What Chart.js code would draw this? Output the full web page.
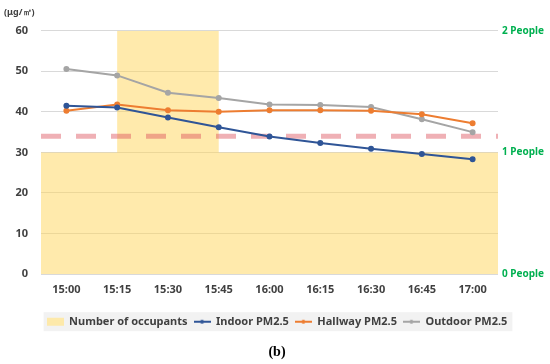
<!DOCTYPE html>
<html>
<head>
<meta charset="utf-8">
<script src="https://cdn.jsdelivr.net/npm/chart.js@4.4.1/dist/chart.umd.min.js"></script>
<style>
  html, body { margin: 0; padding: 0; background: #fff; }
  canvas { display: block; }
</style>
</head>
<body>
<canvas id="pmChart" width="550" height="364"></canvas>
<script>
// data
const times = ['15:00', '15:15', '15:30', '15:45', '16:00', '16:15', '16:30', '16:45', '17:00'];
const indoorPM = [41.5, 41.1, 38.6, 36.2, 33.9, 32.3, 30.9, 29.6, 28.3];
const hallwayPM = [40.3, 41.8, 40.4, 40.0, 40.4, 40.4, 40.3, 39.4, 37.2];
const outdoorPM = [50.6, 49.0, 44.7, 43.4, 41.8, 41.7, 41.2, 38.2, 35.0];
// occupants: count from each time until the next change
const occupantTimes = ['15:00', '15:15', '15:45'];
const occupantCounts = [1, 2, 1];
const pmStandard = 34;
const leftTicks = [0, 10, 20, 30, 40, 50, 60];
const rightTicks = [0, 1, 2];

const toMin = t => {
  const [h, m] = t.split(':').map(Number);
  return (h - 15) * 60 + m;
};
// hidden linear axis lines up with the category axis (half a slot on each side)
const step = toMin(times[1]) - toMin(times[0]);
const xMin = toMin(times[0]) - step / 2;
const xMax = toMin(times[times.length - 1]) + step / 2;

const occupantPoints = occupantTimes.map((t, i) => ({ x: i === 0 ? xMin : toMin(t), y: occupantCounts[i] }));
occupantPoints.push({ x: xMax, y: occupantCounts[occupantCounts.length - 1] });

const yellow = 'rgba(255, 214, 90, 0.5)';
const colors = { indoor: '#2F5597', hallway: '#ED7D31', outdoor: '#A5A5A5' };

function swatch(color, rect) {
  const c = document.createElement('canvas');
  c.width = 17; c.height = 10;
  const g = c.getContext('2d');
  if (rect) {
    g.fillStyle = 'rgb(253, 233, 170)';
    g.fillRect(0, 1, 17, 8);
  } else {
    g.strokeStyle = color; g.lineWidth = 2;
    g.beginPath(); g.moveTo(0, 5); g.lineTo(17, 5); g.stroke();
    g.fillStyle = color;
    g.beginPath(); g.arc(8.5, 5, 2, 0, Math.PI * 2); g.fill();
  }
  return c;
}
const legendIcons = {
  'Number of occupants': swatch(null, true),
  'Indoor PM2.5': swatch(colors.indoor),
  'Hallway PM2.5': swatch(colors.hallway),
  'Outdoor PM2.5': swatch(colors.outdoor)
};

const legendBg = {
  id: 'legendBg',
  beforeDraw(chart) {
    const boxes = chart.legend.legendHitBoxes;
    if (!boxes || !boxes.length) return;
    const left = Math.min(...boxes.map(b => b.left));
    const right = Math.max(...boxes.map(b => b.left + b.width));
    const top = Math.min(...boxes.map(b => b.top));
    const bottom = Math.max(...boxes.map(b => b.top + b.height));
    const ctx = chart.ctx;
    ctx.save();
    ctx.fillStyle = '#F2F2F2';
    ctx.fillRect(left - 3, top - 4, right - left + 8, bottom - top + 8);
    ctx.restore();
  }
};

Chart.defaults.font.family = "'Noto Sans', sans-serif";
Chart.defaults.font.weight = 'bold';
Chart.defaults.color = '#404040';

const lineDs = (label, data, color) => ({
  type: 'line',
  label,
  data,
  xAxisID: 'x',
  yAxisID: 'y',
  borderColor: color,
  backgroundColor: color,
  borderWidth: 2,
  pointRadius: 2,
  pointHoverRadius: 2,
  tension: 0,
  order: 1
});

new Chart(document.getElementById('pmChart'), {
  type: 'line',
  data: {
    labels: times,
    datasets: [
      {
        label: 'Number of occupants',
        data: occupantPoints,
        xAxisID: 'xo',
        yAxisID: 'y2',
        stepped: 'before',
        fill: 'origin',
        backgroundColor: yellow,
        borderWidth: 0,
        pointRadius: 0,
        order: 10
      },
      lineDs('Indoor PM2.5', indoorPM, colors.indoor),
      lineDs('Hallway PM2.5', hallwayPM, colors.hallway),
      lineDs('Outdoor PM2.5', outdoorPM, colors.outdoor),
      {
        label: 'standard',
        data: [{ x: xMin, y: pmStandard }, { x: xMax, y: pmStandard }],
        xAxisID: 'xo',
        yAxisID: 'y',
        borderColor: 'rgba(220, 80, 90, 0.45)',
        borderWidth: 5,
        borderDash: [20, 15],
        borderCapStyle: 'butt',
        pointRadius: 0,
        order: 5
      }
    ]
  },
  options: {
    responsive: false,
    animation: false,
    layout: { padding: { left: 4, right: 0, top: 0, bottom: 3 } },
    scales: {
      x: {
        type: 'category',
        offset: true,
        grid: { display: false, drawTicks: false },
        border: { display: false },
        ticks: { padding: 9, font: { size: 11 } },
        afterFit: s => { s.height += 5; }
      },
      xo: {
        type: 'linear',
        display: false,
        min: xMin,
        max: xMax
      },
      y: {
        position: 'left',
        min: leftTicks[0],
        max: leftTicks[leftTicks.length - 1],
        afterBuildTicks: s => { s.ticks = leftTicks.map(v => ({ value: v })); },
        grid: { color: '#D9D9D9', drawTicks: false },
        border: { display: false },
        ticks: { padding: 13, font: { size: 11 } },
        afterFit: s => { s.width = 37; }
      },
      y2: {
        position: 'right',
        min: rightTicks[0],
        max: rightTicks[rightTicks.length - 1],
        afterBuildTicks: s => { s.ticks = rightTicks.map(v => ({ value: v })); },
        grid: { display: false, drawTicks: false },
        border: { display: false },
        ticks: {
          padding: 4,
          color: '#00B050',
          font: { size: 10 },
          callback: v => v + ' People'
        },
        afterFit: s => { s.width = 52; }
      }
    },
    plugins: {
      title: {
        display: true,
        text: '(μg/㎥)',
        align: 'start',
        position: 'top',
        color: '#404040',
        font: { size: 9, weight: 'bold' },
        padding: { top: 7, bottom: 13 }
      },
      subtitle: {
        display: true,
        text: '(b)',
        position: 'bottom',
        color: '#000',
        font: { family: "'Liberation Serif', serif", size: 14, weight: 'bold' },
        padding: { top: 7, bottom: 0 }
      },
      legend: {
        position: 'bottom',
        labels: {
          usePointStyle: true,
          pointStyleWidth: 17,
          padding: 6,
          font: { size: 11 },
          color: '#404040',
          filter: item => item.text !== 'standard',
          sort: (a, b) => a.datasetIndex - b.datasetIndex,
          generateLabels: chart => Chart.defaults.plugins.legend.labels.generateLabels(chart)
            .map(item => Object.assign(item, { pointStyle: legendIcons[item.text] || 'line' }))
        }
      },
      tooltip: { enabled: false }
    }
  },
  plugins: [legendBg]
});
</script>
</body>
</html>
